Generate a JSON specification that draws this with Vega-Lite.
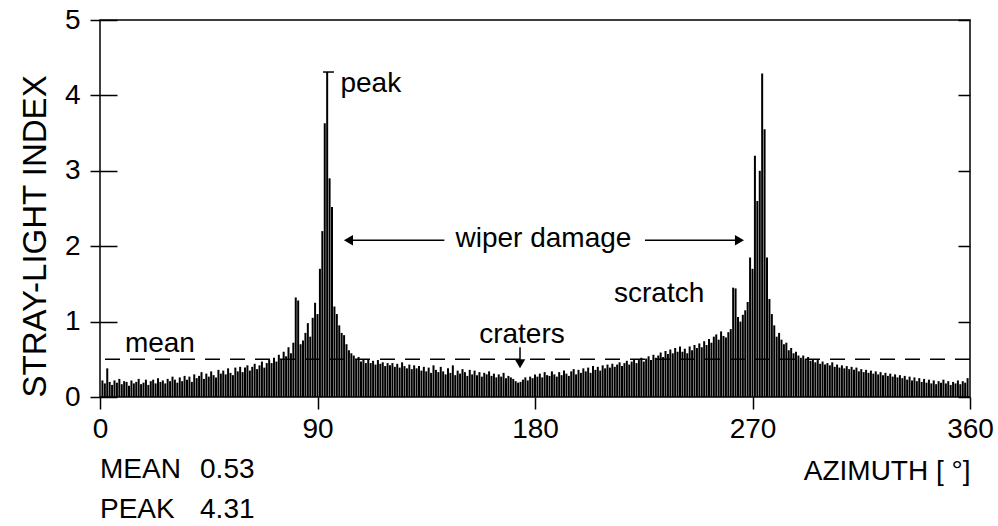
{
  "$schema": "https://vega.github.io/schema/vega-lite/v6.json",
  "width": 870,
  "height": 377,
  "autosize": {"type": "none"},
  "padding": {"left": 100, "top": 20, "right": 28, "bottom": 129},
  "background": "white",
  "config": {
    "font": "Liberation Sans",
    "view": {"stroke": "black", "strokeWidth": 1.5},
    "axis": {"domain": false, "grid": false, "tickColor": "black", "tickWidth": 1.5, "labelColor": "black", "titleColor": "black", "labelFont": "Liberation Sans", "titleFont": "Liberation Sans", "titleFontWeight": "normal"}
  },
  "datasets": {
    "bars": [
      {"a":1,"v":0.22},{"a":2,"v":0.18},{"a":3,"v":0.38},{"a":4,"v":0.2},{"a":5,"v":0.16},{"a":6,"v":0.22},{"a":7,"v":0.19},{"a":8,"v":0.24},{"a":9,"v":0.17},{"a":10,"v":0.21},
      {"a":11,"v":0.2},{"a":12,"v":0.15},{"a":13,"v":0.22},{"a":14,"v":0.18},{"a":15,"v":0.2},{"a":16,"v":0.24},{"a":17,"v":0.17},{"a":18,"v":0.19},{"a":19,"v":0.23},{"a":20,"v":0.16},
      {"a":21,"v":0.21},{"a":22,"v":0.23},{"a":23,"v":0.18},{"a":24,"v":0.25},{"a":25,"v":0.2},{"a":26,"v":0.22},{"a":27,"v":0.18},{"a":28,"v":0.24},{"a":29,"v":0.21},{"a":30,"v":0.27},
      {"a":31,"v":0.23},{"a":32,"v":0.19},{"a":33,"v":0.26},{"a":34,"v":0.21},{"a":35,"v":0.28},{"a":36,"v":0.23},{"a":37,"v":0.27},{"a":38,"v":0.2},{"a":39,"v":0.3},{"a":40,"v":0.25},
      {"a":41,"v":0.28},{"a":42,"v":0.33},{"a":43,"v":0.24},{"a":44,"v":0.31},{"a":45,"v":0.27},{"a":46,"v":0.34},{"a":47,"v":0.29},{"a":48,"v":0.26},{"a":49,"v":0.36},{"a":50,"v":0.31},
      {"a":51,"v":0.35},{"a":52,"v":0.3},{"a":53,"v":0.38},{"a":54,"v":0.32},{"a":55,"v":0.29},{"a":56,"v":0.39},{"a":57,"v":0.34},{"a":58,"v":0.4},{"a":59,"v":0.33},{"a":60,"v":0.39},
      {"a":61,"v":0.42},{"a":62,"v":0.35},{"a":63,"v":0.4},{"a":64,"v":0.44},{"a":65,"v":0.37},{"a":66,"v":0.42},{"a":67,"v":0.47},{"a":68,"v":0.39},{"a":69,"v":0.45},{"a":70,"v":0.49},
      {"a":71,"v":0.45},{"a":72,"v":0.52},{"a":73,"v":0.47},{"a":74,"v":0.56},{"a":75,"v":0.5},{"a":76,"v":0.6},{"a":77,"v":0.54},{"a":78,"v":0.66},{"a":79,"v":0.58},{"a":80,"v":0.72},
      {"a":81,"v":1.32},{"a":82,"v":1.28},{"a":83,"v":0.7},{"a":84,"v":0.75},{"a":85,"v":0.85},{"a":86,"v":0.98},{"a":87,"v":0.8},{"a":88,"v":1.05},{"a":89,"v":1.25},{"a":90,"v":1.1},
      {"a":91,"v":1.7},{"a":92,"v":2.2},{"a":93,"v":3.63},{"a":94,"v":4.31},{"a":95,"v":2.9},{"a":96,"v":2.52},{"a":97,"v":1.2},{"a":98,"v":1.1},{"a":99,"v":0.95},{"a":100,"v":0.85},
      {"a":101,"v":0.82},{"a":102,"v":0.7},{"a":103,"v":0.62},{"a":104,"v":0.58},{"a":105,"v":0.55},{"a":106,"v":0.5},{"a":107,"v":0.53},{"a":108,"v":0.47},{"a":109,"v":0.5},{"a":110,"v":0.45},
      {"a":111,"v":0.5},{"a":112,"v":0.45},{"a":113,"v":0.48},{"a":114,"v":0.43},{"a":115,"v":0.49},{"a":116,"v":0.44},{"a":117,"v":0.46},{"a":118,"v":0.41},{"a":119,"v":0.45},{"a":120,"v":0.42},
      {"a":121,"v":0.45},{"a":122,"v":0.4},{"a":123,"v":0.44},{"a":124,"v":0.39},{"a":125,"v":0.46},{"a":126,"v":0.41},{"a":127,"v":0.38},{"a":128,"v":0.43},{"a":129,"v":0.37},{"a":130,"v":0.42},
      {"a":131,"v":0.38},{"a":132,"v":0.41},{"a":133,"v":0.35},{"a":134,"v":0.4},{"a":135,"v":0.34},{"a":136,"v":0.39},{"a":137,"v":0.32},{"a":138,"v":0.42},{"a":139,"v":0.36},{"a":140,"v":0.33},
      {"a":141,"v":0.4},{"a":142,"v":0.34},{"a":143,"v":0.3},{"a":144,"v":0.38},{"a":145,"v":0.32},{"a":146,"v":0.42},{"a":147,"v":0.29},{"a":148,"v":0.35},{"a":149,"v":0.31},{"a":150,"v":0.37},
      {"a":151,"v":0.33},{"a":152,"v":0.28},{"a":153,"v":0.36},{"a":154,"v":0.3},{"a":155,"v":0.35},{"a":156,"v":0.29},{"a":157,"v":0.33},{"a":158,"v":0.27},{"a":159,"v":0.32},{"a":160,"v":0.3},
      {"a":161,"v":0.34},{"a":162,"v":0.28},{"a":163,"v":0.31},{"a":164,"v":0.26},{"a":165,"v":0.3},{"a":166,"v":0.27},{"a":167,"v":0.32},{"a":168,"v":0.25},{"a":169,"v":0.28},{"a":170,"v":0.26},
      {"a":171,"v":0.24},{"a":172,"v":0.21},{"a":173,"v":0.19},{"a":174,"v":0.2},{"a":175,"v":0.23},{"a":176,"v":0.26},{"a":177,"v":0.22},{"a":178,"v":0.27},{"a":179,"v":0.25},{"a":180,"v":0.3},
      {"a":181,"v":0.27},{"a":182,"v":0.31},{"a":183,"v":0.26},{"a":184,"v":0.33},{"a":185,"v":0.29},{"a":186,"v":0.28},{"a":187,"v":0.34},{"a":188,"v":0.3},{"a":189,"v":0.27},{"a":190,"v":0.33},
      {"a":191,"v":0.29},{"a":192,"v":0.35},{"a":193,"v":0.31},{"a":194,"v":0.28},{"a":195,"v":0.34},{"a":196,"v":0.37},{"a":197,"v":0.3},{"a":198,"v":0.36},{"a":199,"v":0.32},{"a":200,"v":0.38},
      {"a":201,"v":0.34},{"a":202,"v":0.39},{"a":203,"v":0.32},{"a":204,"v":0.41},{"a":205,"v":0.36},{"a":206,"v":0.4},{"a":207,"v":0.35},{"a":208,"v":0.42},{"a":209,"v":0.38},{"a":210,"v":0.43},
      {"a":211,"v":0.39},{"a":212,"v":0.44},{"a":213,"v":0.4},{"a":214,"v":0.43},{"a":215,"v":0.46},{"a":216,"v":0.41},{"a":217,"v":0.45},{"a":218,"v":0.48},{"a":219,"v":0.43},{"a":220,"v":0.47},
      {"a":221,"v":0.5},{"a":222,"v":0.45},{"a":223,"v":0.49},{"a":224,"v":0.52},{"a":225,"v":0.47},{"a":226,"v":0.51},{"a":227,"v":0.54},{"a":228,"v":0.49},{"a":229,"v":0.56},{"a":230,"v":0.52},
      {"a":231,"v":0.55},{"a":232,"v":0.59},{"a":233,"v":0.53},{"a":234,"v":0.61},{"a":235,"v":0.57},{"a":236,"v":0.63},{"a":237,"v":0.58},{"a":238,"v":0.65},{"a":239,"v":0.6},{"a":240,"v":0.67},
      {"a":241,"v":0.6},{"a":242,"v":0.64},{"a":243,"v":0.58},{"a":244,"v":0.67},{"a":245,"v":0.62},{"a":246,"v":0.69},{"a":247,"v":0.65},{"a":248,"v":0.71},{"a":249,"v":0.66},{"a":250,"v":0.74},
      {"a":251,"v":0.69},{"a":252,"v":0.77},{"a":253,"v":0.72},{"a":254,"v":0.8},{"a":255,"v":0.83},{"a":256,"v":0.76},{"a":257,"v":0.87},{"a":258,"v":0.81},{"a":259,"v":0.79},{"a":260,"v":0.86},
      {"a":261,"v":0.9},{"a":262,"v":1.45},{"a":263,"v":1.44},{"a":264,"v":1.06},{"a":265,"v":1.0},{"a":266,"v":1.09},{"a":267,"v":1.15},{"a":268,"v":1.26},{"a":269,"v":1.85},{"a":270,"v":1.7},
      {"a":271,"v":3.2},{"a":272,"v":2.6},{"a":273,"v":3.0},{"a":274,"v":4.29},{"a":275,"v":3.55},{"a":276,"v":1.85},{"a":277,"v":1.3},{"a":278,"v":1.1},{"a":279,"v":0.95},{"a":280,"v":0.8},
      {"a":281,"v":0.85},{"a":282,"v":0.76},{"a":283,"v":0.7},{"a":284,"v":0.72},{"a":285,"v":0.62},{"a":286,"v":0.65},{"a":287,"v":0.58},{"a":288,"v":0.6},{"a":289,"v":0.55},{"a":290,"v":0.52},
      {"a":291,"v":0.55},{"a":292,"v":0.5},{"a":293,"v":0.53},{"a":294,"v":0.48},{"a":295,"v":0.5},{"a":296,"v":0.46},{"a":297,"v":0.49},{"a":298,"v":0.44},{"a":299,"v":0.47},{"a":300,"v":0.43},
      {"a":301,"v":0.45},{"a":302,"v":0.42},{"a":303,"v":0.46},{"a":304,"v":0.4},{"a":305,"v":0.43},{"a":306,"v":0.39},{"a":307,"v":0.42},{"a":308,"v":0.38},{"a":309,"v":0.41},{"a":310,"v":0.37},
      {"a":311,"v":0.4},{"a":312,"v":0.36},{"a":313,"v":0.39},{"a":314,"v":0.34},{"a":315,"v":0.37},{"a":316,"v":0.33},{"a":317,"v":0.36},{"a":318,"v":0.32},{"a":319,"v":0.35},{"a":320,"v":0.31},
      {"a":321,"v":0.34},{"a":322,"v":0.3},{"a":323,"v":0.33},{"a":324,"v":0.29},{"a":325,"v":0.32},{"a":326,"v":0.28},{"a":327,"v":0.31},{"a":328,"v":0.27},{"a":329,"v":0.3},{"a":330,"v":0.26},
      {"a":331,"v":0.29},{"a":332,"v":0.25},{"a":333,"v":0.28},{"a":334,"v":0.23},{"a":335,"v":0.27},{"a":336,"v":0.22},{"a":337,"v":0.26},{"a":338,"v":0.21},{"a":339,"v":0.25},{"a":340,"v":0.2},
      {"a":341,"v":0.24},{"a":342,"v":0.19},{"a":343,"v":0.23},{"a":344,"v":0.18},{"a":345,"v":0.22},{"a":346,"v":0.17},{"a":347,"v":0.21},{"a":348,"v":0.19},{"a":349,"v":0.23},{"a":350,"v":0.18},
      {"a":351,"v":0.21},{"a":352,"v":0.16},{"a":353,"v":0.2},{"a":354,"v":0.18},{"a":355,"v":0.22},{"a":356,"v":0.17},{"a":357,"v":0.21},{"a":358,"v":0.19},{"a":359,"v":0.25}
    ],
    "segs": [
      {"x": 103, "x2": 142.5, "y": 2.08, "y2": 2.08},
      {"x": 225.5, "x2": 264.3, "y": 2.08, "y2": 2.08},
      {"x": 92.3, "x2": 96.8, "y": 4.31, "y2": 4.31},
      {"x": 173.8, "x2": 173.8, "y": 0.66, "y2": 0.45}
    ],
    "heads": [
      {"x": 102.8, "y": 2.08, "s": "triangle-left"},
      {"x": 264.6, "y": 2.08, "s": "triangle-right"},
      {"x": 173.8, "y": 0.44, "s": "triangle-down"}
    ],
    "mean": [{"m": 0.5}],
    "notes": [
      {"x": 99.5, "y": 4.05, "t": "peak", "al": "left"},
      {"x": 183.5, "y": 1.99, "t": "wiper damage", "al": "center"},
      {"x": 212.7, "y": 1.26, "t": "scratch", "al": "left"},
      {"x": 174.6, "y": 0.72, "t": "craters", "al": "center"},
      {"x": 10.3, "y": 0.6, "t": "mean", "al": "left"},
      {"x": 0, "y": -1.08, "t": "MEAN", "al": "left"},
      {"x": 41.4, "y": -1.08, "t": "0.53", "al": "left"},
      {"x": 0, "y": -1.6, "t": "PEAK", "al": "left"},
      {"x": 41.4, "y": -1.6, "t": "4.31", "al": "left"}
    ]
  },
  "resolve": {"axis": {"x": "independent", "y": "independent"}},
  "layer": [
    {
      "data": {"name": "bars"},
      "mark": {"type": "bar", "color": "black", "size": 2},
      "encoding": {
        "x": {"field": "a", "type": "quantitative", "scale": {"domain": [0, 360], "nice": false, "zero": false, "padding": 0},
          "axis": {"orient": "bottom", "values": [0, 90, 180, 270, 360], "tickSize": 12, "labelFontSize": 28, "labelPadding": 6, "labelFlush": false,
            "title": "AZIMUTH [ °]", "titleFontSize": 28, "titleAnchor": "end", "titleAlign": "right", "titlePadding": 14}},
        "y": {"field": "v", "type": "quantitative", "scale": {"domain": [0, 5], "nice": false},
          "axis": {"orient": "left", "values": [0, 1, 2, 3, 4, 5], "tickSize": 10, "labelFontSize": 28, "labelPadding": 10,
            "grid": true, "gridColor": "black", "gridWidth": 1.5, "gridOpacity": 1, "gridDash": [17, 841, 12, 0],
            "title": "STRAY-LIGHT INDEX", "titleFontSize": 33, "titleAnchor": "start", "titlePadding": 12}}
      }
    },
    {
      "data": {"name": "mean"},
      "mark": {"type": "rule", "color": "black", "strokeWidth": 1.5, "strokeDash": [15, 10]},
      "encoding": {"y": {"field": "m", "type": "quantitative", "axis": null}}
    },
    {
      "data": {"name": "segs"},
      "mark": {"type": "rule", "color": "black", "strokeWidth": 1.5},
      "encoding": {
        "x": {"field": "x", "type": "quantitative", "axis": null},
        "x2": {"field": "x2"},
        "y": {"field": "y", "type": "quantitative", "axis": null},
        "y2": {"field": "y2"}
      }
    },
    {
      "data": {"name": "heads"},
      "mark": {"type": "point", "filled": true, "color": "black", "opacity": 1, "size": 110},
      "encoding": {
        "x": {"field": "x", "type": "quantitative", "axis": null},
        "y": {"field": "y", "type": "quantitative", "axis": null},
        "shape": {"field": "s", "type": "nominal", "scale": null}
      }
    },
    {
      "data": {"name": "notes"},
      "transform": [{"filter": "datum.al === 'left'"}],
      "mark": {"type": "text", "align": "left", "baseline": "alphabetic", "fontSize": 28, "color": "black"},
      "encoding": {
        "x": {"field": "x", "type": "quantitative", "axis": null},
        "y": {"field": "y", "type": "quantitative", "axis": null},
        "text": {"field": "t"}
      }
    },
    {
      "data": {"name": "notes"},
      "transform": [{"filter": "datum.al === 'center'"}],
      "mark": {"type": "text", "align": "center", "baseline": "alphabetic", "fontSize": 28, "color": "black"},
      "encoding": {
        "x": {"field": "x", "type": "quantitative", "axis": null},
        "y": {"field": "y", "type": "quantitative", "axis": null},
        "text": {"field": "t"}
      }
    }
  ]
}
